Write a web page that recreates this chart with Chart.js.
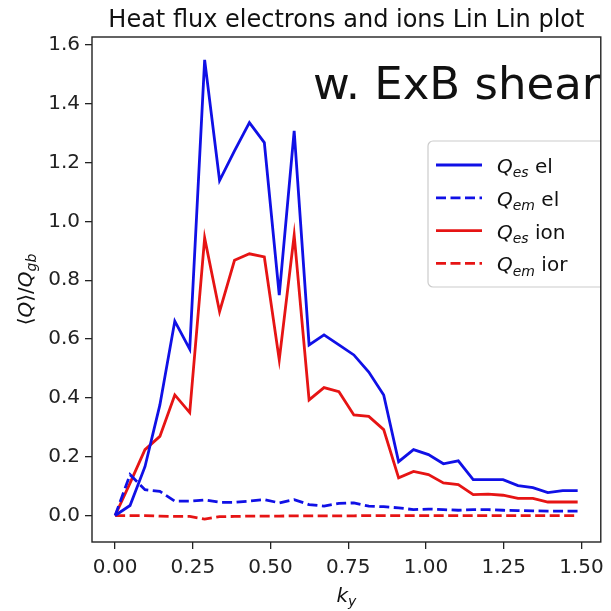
<!DOCTYPE html>
<html>
<head>
<meta charset="utf-8">
<script src="https://cdn.jsdelivr.net/npm/chart.js@4.4.1/dist/chart.umd.min.js"></script>
<style>
  html, body { margin: 0; padding: 0; background: #fff; }
  #wrap { width: 611px; height: 611px; }
</style>
</head>
<body>
<div id="wrap"><canvas id="fluxChart" width="611" height="611"></canvas></div>
<script>
// wavenumber grid k_y
var ky = [0, 0.048, 0.096, 0.144, 0.192, 0.24, 0.288, 0.336, 0.384, 0.432, 0.48, 0.528,
          0.576, 0.624, 0.672, 0.72, 0.768, 0.816, 0.864, 0.912, 0.96, 1.008, 1.056, 1.104,
          1.152, 1.2, 1.248, 1.296, 1.344, 1.392, 1.44, 1.488];

// heat flux, electrostatic / electromagnetic, electrons / ions
var qesEl = [0, 0.034, 0.166, 0.376, 0.661, 0.566, 1.549, 1.139, 1.24, 1.336, 1.268, 0.749,
             1.308, 0.58, 0.614, 0.58, 0.546, 0.488, 0.41, 0.183, 0.224, 0.207, 0.176, 0.186,
             0.122, 0.122, 0.122, 0.102, 0.095, 0.078, 0.085, 0.085];
var qemEl = [0, 0.139, 0.088, 0.082, 0.049, 0.049, 0.053, 0.045, 0.045, 0.049, 0.054, 0.043,
             0.054, 0.037, 0.032, 0.041, 0.043, 0.032, 0.03, 0.026, 0.02, 0.022, 0.02, 0.018,
             0.02, 0.02, 0.018, 0.017, 0.016, 0.015, 0.015, 0.015];
var qesIon = [0, 0.11, 0.224, 0.269, 0.41, 0.35, 0.944, 0.693, 0.868, 0.89, 0.879, 0.529,
              0.953, 0.393, 0.435, 0.421, 0.342, 0.337, 0.292, 0.128, 0.15, 0.139, 0.111, 0.105,
              0.071, 0.073, 0.069, 0.058, 0.058, 0.046, 0.046, 0.046];
var qemIon = [0, 0, 0, -0.002, -0.003, -0.003, -0.012, -0.004, -0.003, -0.002, -0.002, -0.002,
              -0.001, -0.001, -0.001, -0.001, -0.001, 0, 0, 0, 0, 0, 0, 0,
              0, 0, 0, 0, 0, 0, 0, 0];

var xTicks = [0, 0.25, 0.5, 0.75, 1.0, 1.25, 1.5];
var yTicks = [0, 0.2, 0.4, 0.6, 0.8, 1.0, 1.2, 1.4, 1.6];

var BLUE = '#1010e6';
var RED = '#e61414';
var FONT = 'DejaVu Sans';

function pts(ys) {
    return ky.map(function(k, i) { return { x: k, y: ys[i] }; });
}

// draw text made of pieces (italic / subscript), returns width
function richText(ctx, parts, x, y, size, measureOnly) {
    var cx = x;
    parts.forEach(function(p) {
        var s = p.sub ? size * 0.7 : size;
        ctx.font = (p.it ? 'italic ' : '') + s + 'px "' + FONT + '"';
        var dy = p.sub ? size * 0.22 : 0;
        if (!measureOnly) ctx.fillText(p.t, cx, y + dy);
        cx += ctx.measureText(p.t).width;
    });
    return cx - x;
}

var legendItems = [
    { color: BLUE, dash: [], parts: [{ t: 'Q', it: true }, { t: 'es', it: true, sub: true }, { t: ' el' }] },
    { color: BLUE, dash: [10, 4.5], parts: [{ t: 'Q', it: true }, { t: 'em', it: true, sub: true }, { t: ' el' }] },
    { color: RED, dash: [], parts: [{ t: 'Q', it: true }, { t: 'es', it: true, sub: true }, { t: ' ion' }] },
    { color: RED, dash: [10, 4.5], parts: [{ t: 'Q', it: true }, { t: 'em', it: true, sub: true }, { t: ' ior' }] }
];

var decorations = {
    id: 'decorations',
    afterDraw: function(chart) {
        var ctx = chart.ctx;
        var a = chart.chartArea;
        ctx.save();
        ctx.fillStyle = '#111';
        ctx.textBaseline = 'alphabetic';

        // title
        ctx.font = '24px "' + FONT + '"';
        ctx.textAlign = 'center';
        ctx.fillText('Heat flux electrons and ions Lin Lin plot', (a.left + a.right) / 2, 27);

        // big annotation, clipped by the axes
        ctx.save();
        ctx.beginPath();
        ctx.rect(a.left, a.top, a.right - a.left, a.bottom - a.top);
        ctx.clip();
        ctx.textAlign = 'left';
        ctx.font = '45px "' + FONT + '"';
        ctx.fillText('w. ExB shear', 313, 99);

        // legend
        ctx.fillStyle = 'rgba(255,255,255,0.8)';
        ctx.strokeStyle = '#cccccc';
        ctx.lineWidth = 1.2;
        ctx.beginPath();
        ctx.roundRect(428, 141, 190, 146, 5);
        ctx.fill();
        ctx.stroke();
        legendItems.forEach(function(it, i) {
            var yc = 165 + i * 32.8;
            ctx.strokeStyle = it.color;
            ctx.lineWidth = 2.8;
            ctx.setLineDash(it.dash);
            ctx.beginPath();
            ctx.moveTo(436, yc);
            ctx.lineTo(482, yc);
            ctx.stroke();
            ctx.setLineDash([]);
            ctx.fillStyle = '#111';
            richText(ctx, it.parts, 497, yc + 8, 20);
        });
        ctx.restore();

        // frame
        ctx.strokeStyle = '#222';
        ctx.lineWidth = 1.4;
        ctx.strokeRect(a.left, a.top, a.right - a.left, a.bottom - a.top);

        // x label
        ctx.fillStyle = '#111';
        ctx.textAlign = 'left';
        var xl = [{ t: 'k', it: true }, { t: 'y', it: true, sub: true }];
        var w = richText(ctx, xl, 0, 0, 20, true);
        richText(ctx, xl, (a.left + a.right) / 2 - w / 2, 602, 20);

        // y label
        ctx.translate(32, (a.top + a.bottom) / 2);
        ctx.rotate(-Math.PI / 2);
        var yl = [{ t: '\u27E8' }, { t: 'Q', it: true }, { t: '\u27E9/' }, { t: 'Q', it: true }, { t: 'gb', it: true, sub: true }];
        w = richText(ctx, yl, 0, 0, 20, true);
        richText(ctx, yl, -w / 2, 0, 20);
        ctx.restore();
    }
};

var tickFont = { family: FONT, size: 20 };

var ctx = document.getElementById('fluxChart').getContext('2d');
var fluxChart = new Chart(ctx, {
    type: 'line',
    data: {
        datasets: [
            { data: pts(qesEl), borderColor: BLUE, borderWidth: 2.8 },
            { data: pts(qemEl), borderColor: BLUE, borderWidth: 2.8, borderDash: [10, 4.5] },
            { data: pts(qesIon), borderColor: RED, borderWidth: 2.8 },
            { data: pts(qemIon), borderColor: RED, borderWidth: 2.8, borderDash: [10, 4.5] }
        ]
    },
    options: {
        responsive: false,
        animation: false,
        layout: { padding: { top: 37, right: 9, left: 0, bottom: 0 } },
        elements: { point: { radius: 0 }, line: { tension: 0, fill: false } },
        plugins: {
            legend: { display: false },
            title: { display: false },
            tooltip: { enabled: false }
        },
        scales: {
            x: {
                type: 'linear',
                min: -0.0744,
                max: 1.5624,
                afterFit: function(s) { s.height = 69; },
                afterBuildTicks: function(s) { s.ticks = xTicks.map(function(v) { return { value: v }; }); },
                ticks: {
                    callback: function(v) { return v.toFixed(2); },
                    font: tickFont, color: '#222', padding: 7, maxRotation: 0, autoSkip: false
                },
                grid: { drawOnChartArea: false, tickLength: 7, color: '#222', lineWidth: 1.3 },
                border: { display: false }
            },
            y: {
                type: 'linear',
                min: -0.09,
                max: 1.627,
                afterFit: function(s) { s.width = 92; },
                afterBuildTicks: function(s) { s.ticks = yTicks.map(function(v) { return { value: v }; }); },
                ticks: {
                    callback: function(v) { return v.toFixed(1); },
                    font: tickFont, color: '#222', padding: 5, autoSkip: false
                },
                grid: { drawOnChartArea: false, tickLength: 7, color: '#222', lineWidth: 1.3 },
                border: { display: false }
            }
        }
    },
    plugins: [decorations]
});
</script>
</body>
</html>
